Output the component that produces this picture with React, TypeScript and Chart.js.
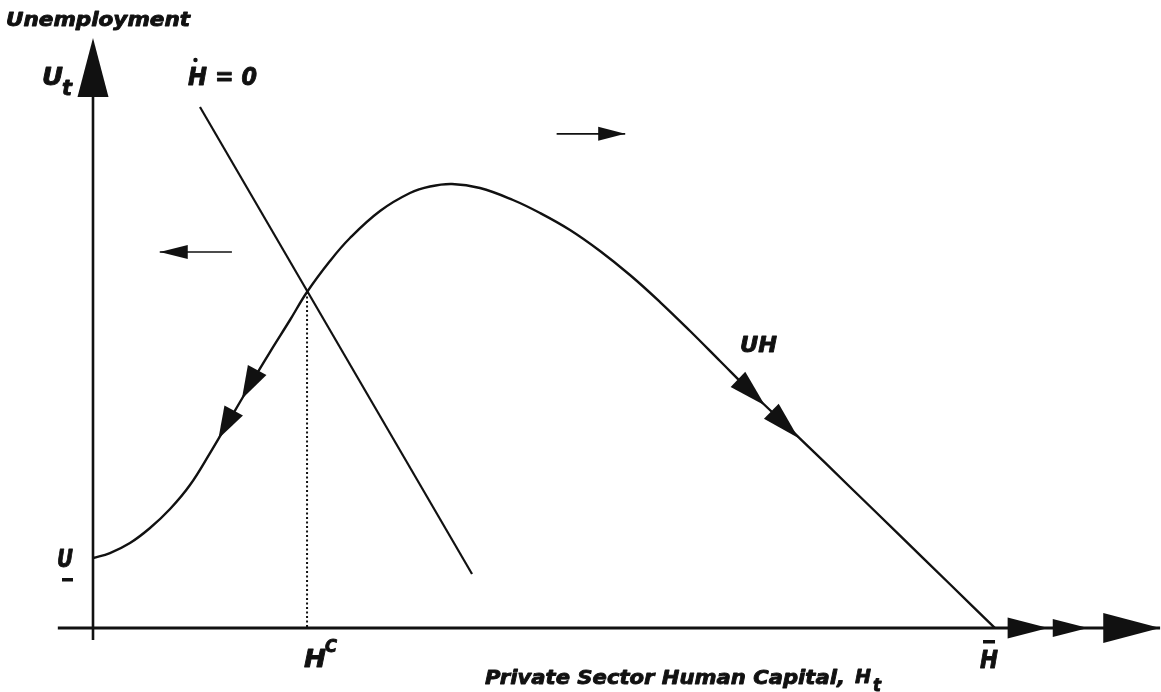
import React, { useEffect, useRef } from "react";
import { Chart, registerables } from "chart.js";
Chart.register(...registerables);

// ---- Data (H: private-sector human capital, H̄ = 100; U: unemployment index) ----
const uhH = [0, 1.88, 4.10, 6.32, 8.54, 10.75, 12.97, 15.19, 17.41, 19.62, 21.84, 23.73, 26.27, 28.49, 31.82, 35.14, 37.36, 39.80, 42.90, 46.56, 49.56, 52.88, 56.21, 59.53, 62.86, 66.19, 69.51, 72.84, 78.38, 83.92, 89.47, 94.98, 100];
const uhU = [15.77, 16.89, 19.14, 22.52, 26.80, 32.21, 39.41, 47.07, 54.73, 62.16, 69.37, 75.68, 82.66, 87.84, 93.92, 97.97, 99.44, 100, 99.10, 96.40, 93.47, 89.64, 84.91, 79.50, 73.42, 66.89, 60.14, 53.38, 42.68, 31.76, 20.83, 9.91, 0];
const hdotH = [11.86, 42.02];
const hdotU = [117.34, 12.16];
const Hc = 23.73;
const Uc = 75.68;
const Hbar = 100;
const xAxisH = [-3.9, 118.3];
const yAxisU = [-2.7, 119.6];
// direction arrows (left and right of the H-dot=0 line)
const leftArrowH = [15.4, 7.4];
const leftArrowU = [84.7, 84.7];
const rightArrowH = [51.4, 59.0];
const rightArrowU = [111.3, 111.3];
// arrowheads on UH curve: tip and base
const curveTipH = [16.5, 13.9, 74.5, 78.2];
const curveTipU = [51.6, 42.6, 50.1, 42.8];
const curveBaseH = [18.2, 15.6, 71.5, 75.2];
const curveBaseU = [58.1, 49.0, 56.0, 48.8];
// axis arrowheads
const xHeadTipH = [105.9, 110.3, 118.3];
const xHeadBaseH = [101.4, 106.4, 112.0];
const yHeadTipU = 132.9;
const yHeadBaseU = 119.6;

const pts = (xs: number[], ys: number[]) => xs.map((x, i) => ({ x, y: ys[i] }));

const INK = "#111";

function tri(ctx: CanvasRenderingContext2D, tx: number, ty: number, bx: number, by: number, hw: number) {
  const dx = tx - bx, dy = ty - by;
  const L = Math.hypot(dx, dy) || 1;
  const nx = -dy / L, ny = dx / L;
  ctx.beginPath();
  ctx.moveTo(tx, ty);
  ctx.lineTo(bx + nx * hw, by + ny * hw);
  ctx.lineTo(bx - nx * hw, by - ny * hw);
  ctx.closePath();
  ctx.fill();
}

function txt(ctx: CanvasRenderingContext2D, s: string, x: number, y: number, size: number, w?: number) {
  ctx.save();
  ctx.font = `italic bold ${size}px "DejaVu Sans"`;
  ctx.textAlign = "left";
  ctx.textBaseline = "alphabetic";
  ctx.fillStyle = INK;
  ctx.strokeStyle = INK;
  ctx.lineWidth = 0.9;
  ctx.lineJoin = "round";
  ctx.translate(x, y);
  if (w) {
    const m = ctx.measureText(s).width;
    ctx.scale(w / m, 1);
  }
  ctx.fillText(s, 0, 0);
  ctx.strokeText(s, 0, 0);
  ctx.restore();
}

const decor = {
  id: "decor",
  afterDatasetsDraw(chart: any) {
    const ctx: CanvasRenderingContext2D = chart.ctx;
    const xs = chart.scales.x, ys = chart.scales.y;
    const px = (v: number) => xs.getPixelForValue(v);
    const py = (v: number) => ys.getPixelForValue(v);
    ctx.save();
    ctx.fillStyle = INK;
    // y-axis arrowhead
    tri(ctx, px(0), py(yHeadTipU), px(0), py(yHeadBaseU), 15.5);
    // x-axis arrowheads
    const hws = [10.5, 9, 15];
    xHeadTipH.forEach((t, i) => tri(ctx, px(t), py(0), px(xHeadBaseH[i]), py(0), hws[i]));
    // curve arrowheads
    curveTipH.forEach((t, i) => tri(ctx, px(t), py(curveTipU[i]), px(curveBaseH[i]), py(curveBaseU[i]), 10.5));
    // small direction arrows
    tri(ctx, px(leftArrowH[1]), py(leftArrowU[1]), px(leftArrowH[1]) + 28, py(leftArrowU[1]), 7);
    tri(ctx, px(rightArrowH[1]), py(rightArrowU[1]), px(rightArrowH[1]) - 27, py(rightArrowU[1]), 7);

    // texts
    txt(ctx, "Unemployment", 6, 26, 20, 184);
    txt(ctx, "U", 42, 85, 24, 21);
    txt(ctx, "t", 62, 95, 22, 10);
    // H-dot = 0
    const hx = px(hdotH[0]) - 12;
    txt(ctx, "H", hx, 85, 24, 19);
    ctx.beginPath();
    ctx.arc(hx + 7.5, 60, 2.2, 0, Math.PI * 2);
    ctx.fill();
    txt(ctx, "= 0", hx + 27, 85, 24, 42);
    // U underbar
    txt(ctx, "U", 57, 567, 24, 16);
    ctx.fillRect(62, 578, 11, 3.5);
    // H^C
    const hcx = px(Hc);
    txt(ctx, "H", hcx - 3, 667, 25, 22);
    txt(ctx, "C", hcx + 18, 652, 17, 12);
    // H bar
    const hbx = px(Hbar);
    txt(ctx, "H", hbx - 15, 668, 24, 18);
    ctx.fillRect(hbx - 12, 640, 12, 3.5);
    // UH
    txt(ctx, "UH", 740, 352, 22, 37);
    // x-axis title
    txt(ctx, "Private Sector Human Capital,", 485, 684, 20, 360);
    txt(ctx, "H", 855, 683, 20, 16);
    txt(ctx, "t", 873, 691, 18, 8);
    ctx.restore();
  },
};

export default function App() {
  const ref = useRef<HTMLCanvasElement>(null);
  useEffect(() => {
    if (!ref.current) return;
    const line = (data: any, width: number, extra: any = {}) => ({
      data,
      showLine: true,
      borderColor: INK,
      backgroundColor: INK,
      borderWidth: width,
      pointRadius: 0,
      fill: false,
      ...extra,
    });
    const chart = new Chart(ref.current, {
      type: "scatter",
      data: {
        datasets: [
          line(pts(xAxisH, [0, 0]), 2.8),
          line(pts([0, 0], yAxisU), 2.6),
          line(pts(uhH, uhU), 2.4, { tension: 0.4 }),
          line(pts(hdotH, hdotU), 2.2),
          line(pts([Hc, Hc], [Uc, 0]), 2, { borderDash: [2, 2.5] }),
          line(pts(leftArrowH, leftArrowU), 1.6),
          line(pts(rightArrowH, rightArrowU), 1.6),
        ] as any,
      },
      options: {
        animation: false,
        responsive: false,
        devicePixelRatio: 1,
        layout: { padding: 0 },
        plugins: { legend: { display: false }, tooltip: { enabled: false }, title: { display: false } },
        events: [],
        scales: {
          x: { type: "linear", display: false, min: -10.31, max: 118.4 },
          y: { type: "linear", display: false, min: -14.41, max: 141.44 },
        },
      } as any,
      plugins: [decor],
    });
    return () => chart.destroy();
  }, []);
  return (
    <div style={{ position: "fixed", left: 0, top: 0, width: 1161, height: 692, background: "#fff" }}>
      <canvas ref={ref} width={1161} height={692} style={{ display: "block" }} />
    </div>
  );
}
